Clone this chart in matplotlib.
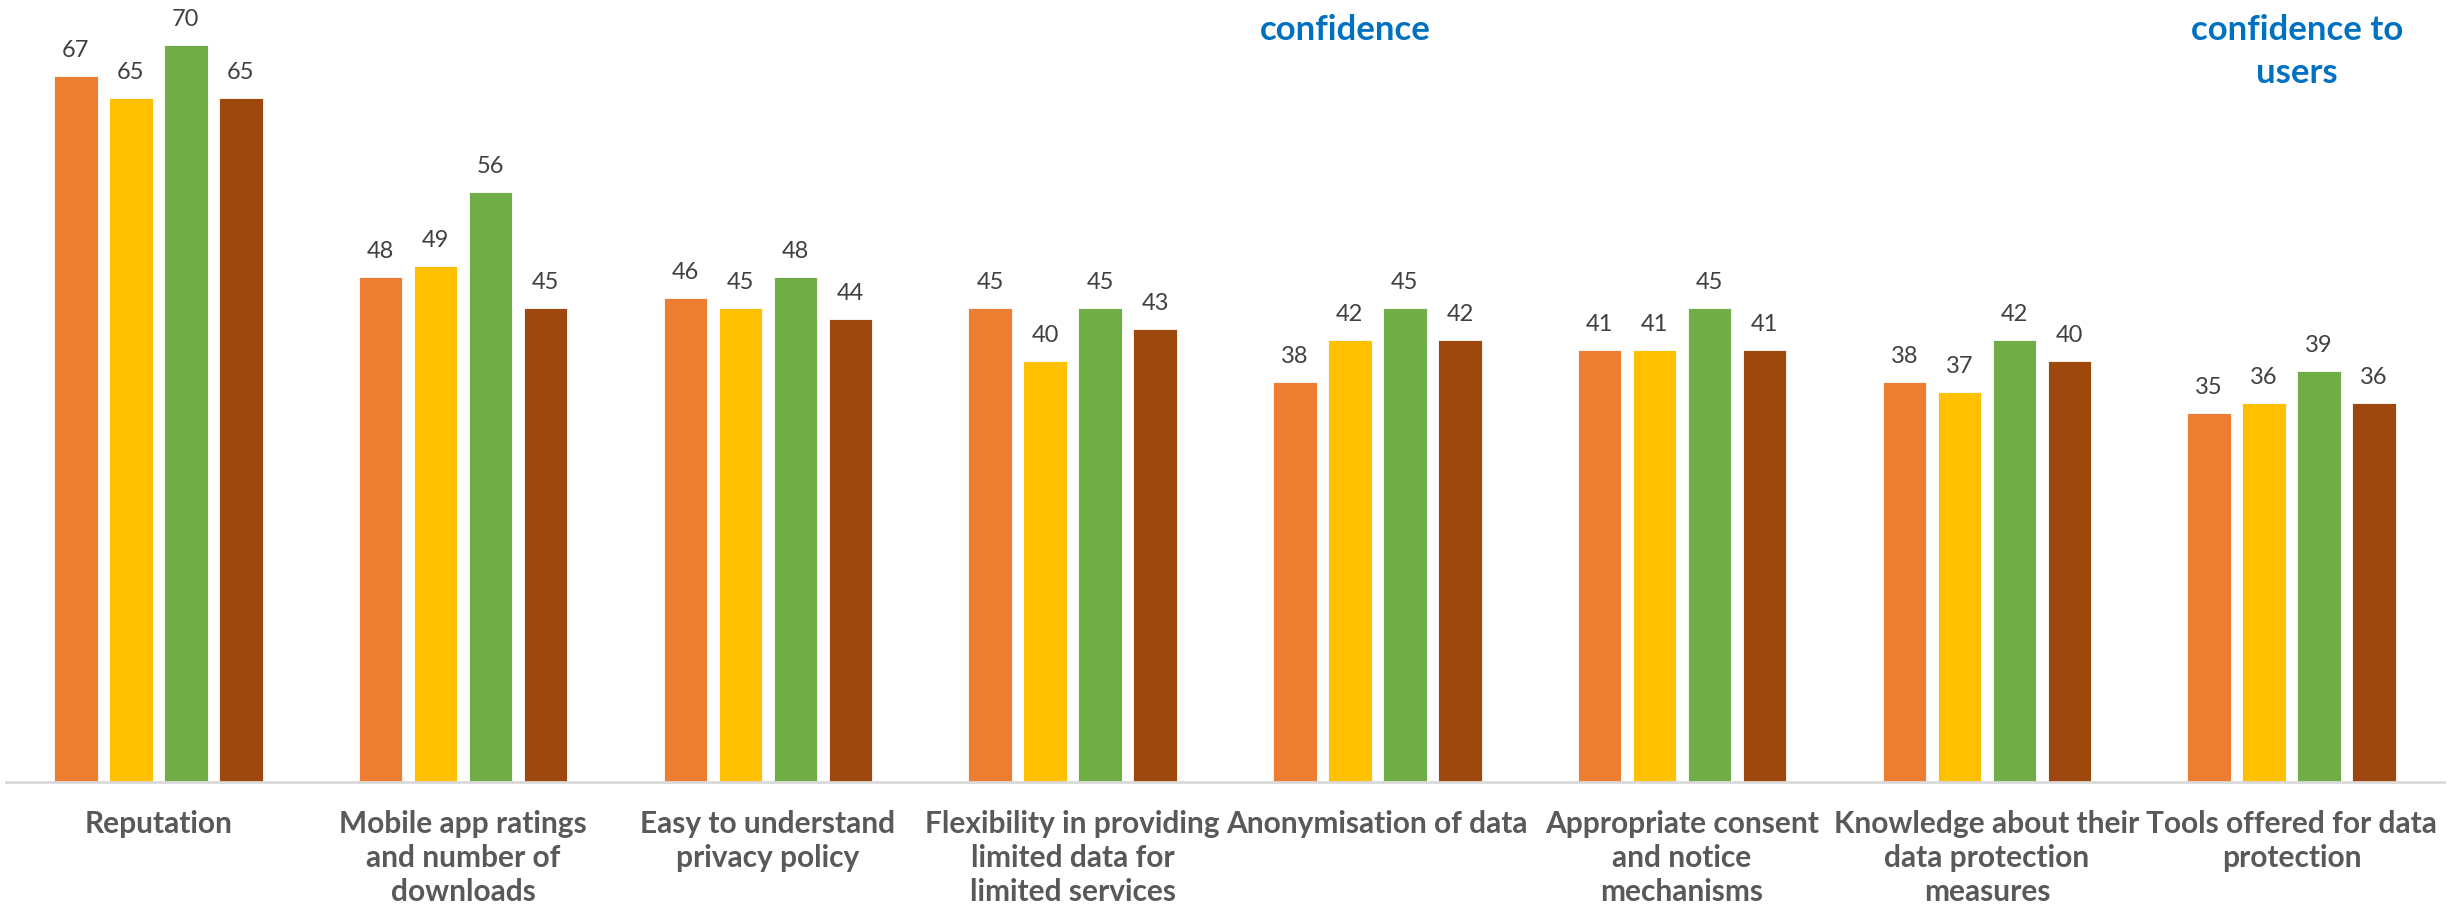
import matplotlib
matplotlib.use("Agg")
import matplotlib.pyplot as plt
import numpy as np

plt.rcParams["font.family"] = ["Lato", "DejaVu Sans"]

categories = [
    "Reputation",
    "Mobile app ratings\nand number of\ndownloads",
    "Easy to understand\nprivacy policy",
    "Flexibility in providing\nlimited data for\nlimited services",
    "Anonymisation of data",
    "Appropriate consent\nand notice\nmechanisms",
    "Knowledge about their\ndata protection\nmeasures",
    "Tools offered for data\nprotection",
]
series_1 = [67, 48, 46, 45, 38, 41, 38, 35]
series_2 = [65, 49, 45, 40, 42, 41, 37, 36]
series_3 = [70, 56, 48, 45, 45, 45, 42, 39]
series_4 = [65, 45, 44, 43, 42, 41, 40, 36]

colors = ["#ED7D31", "#FFC000", "#70AD47", "#9E480E"]

W, H = 2463, 917
PX = 72 / 100  # points per pixel at dpi=100

fig = plt.figure(figsize=(W / 100, H / 100), dpi=100)

# plot area: baseline at y=782px, runs past the top edge of the canvas
ax = fig.add_axes([6 / W, (H - 782) / H, 2438 / W, 782 / H])
ax.set_xlim(-0.5, len(categories) - 0.5)
ax.set_ylim(0, 782 / 10.53)

x = np.arange(len(categories))
pitch = 0.1805
width = 0.143
for k, vals in enumerate([series_1, series_2, series_3, series_4]):
    pos = x + (k - 1.5) * pitch
    ax.bar(pos, vals, width=width, color=colors[k], edgecolor="white",
           linewidth=0.6, zorder=2)
    for xi, v in zip(pos, vals):
        ax.annotate(f"{v}", xy=(xi, v), xytext=(0, 19 * PX),
                    textcoords="offset points", ha="center", va="baseline",
                    fontsize=17, color="#404040", annotation_clip=False)

# category labels, one text per line so the baselines sit on a fixed step
for xi, label in zip(x, categories):
    for j, line in enumerate(label.split("\n")):
        ax.annotate(line, xy=(xi, 0), xycoords=("data", "axes fraction"),
                    xytext=(0, -(51 + 34 * j) * PX),
                    textcoords="offset points", ha="center", va="baseline",
                    fontsize=21.5, fontweight="bold", color="#595959",
                    annotation_clip=False)

for s in ["top", "right", "left"]:
    ax.spines[s].set_visible(False)
ax.spines["bottom"].set_color("#D9D9D9")
ax.spines["bottom"].set_linewidth(2)
ax.set_xticks([])
ax.set_yticks([])

# callouts above the plot area
callouts = [(1345, ["confidence"]), (2297, ["confidence to", "users"])]
for cx, lines in callouts:
    for j, line in enumerate(lines):
        fig.text(cx / W, 1 - (40 + 43 * j) / H, line, ha="center",
                 va="baseline", fontsize=25, fontweight="bold",
                 color="#0070C0")

fig.savefig("out.png", dpi=100)
